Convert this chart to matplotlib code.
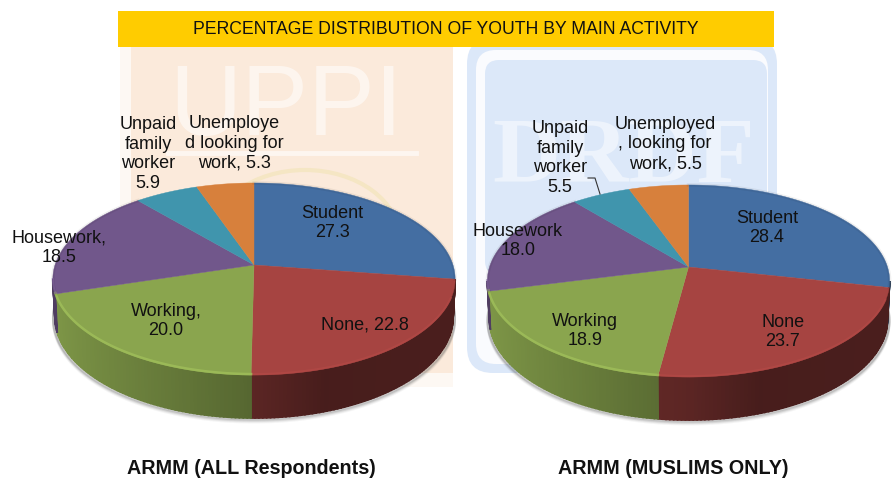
import numpy as np
import matplotlib
matplotlib.use('Agg')
import matplotlib.pyplot as plt
from matplotlib.patches import Polygon, Rectangle, FancyBboxPatch, Ellipse

# data (clockwise from 12 o'clock)
categories = ['Student', 'None', 'Working', 'Housework', 'Unpaid family worker', 'Unemployed']
all_values = [27.3, 22.8, 20.0, 18.5, 5.9, 5.3]
muslim_values = [28.4, 23.7, 18.9, 18.0, 5.5, 5.5]

title = 'PERCENTAGE DISTRIBUTION OF YOUTH BY MAIN ACTIVITY'
all_caption = 'ARMM (ALL Respondents)'
muslim_caption = 'ARMM (MUSLIMS ONLY)'

colors = ['#446ea2', '#a64441', '#8aa54e', '#71578b', '#4095ad', '#d7803c']

FONT = 'Liberation Sans'
K = 0.146


def project(cx, cy, theta):
    # circle seen in perspective, cy is where the slices meet
    u = np.sin(theta)
    v = np.cos(theta)
    w = 1 + K * v
    return cx + 199 * u / w, cy - 94 * v / w


def lower(cx, cy, theta):
    x, y = project(cx, cy, theta)
    return cx + (x - cx) * 0.99, y + 37 - 6 * np.cos(theta)


def wall_shade(i, u):
    if i == 1:
        return np.interp(u, [-0.3, 0.0, 0.3, 1.0], [0.62, 0.55, 0.43, 0.45])
    if i == 2:
        return np.interp(u, [-1.0, 0.0], [0.92, 0.62])
    if i == 3:
        return 0.7
    return 0.5


def draw_pie(ax, cx, cy, values):
    values = np.array(values, dtype=float)
    edges = np.concatenate([[0], np.cumsum(values / values.sum())]) * 2 * np.pi

    # soft shadow under the pie
    t = np.linspace(np.radians(85), np.radians(275), 120)
    lx, ly = lower(cx, cy, t)
    for d, a in [(4, 0.05), (3, 0.08), (2, 0.12), (1, 0.18)]:
        ax.plot(lx - 1.5 * np.sign(np.sin(t)) * -1, ly + d, color='#404040', alpha=a, lw=2, zorder=2)

    # side wall
    lo = np.arccos(-K)
    hi = 2 * np.pi - lo
    for i, c in enumerate(colors):
        a = max(edges[i], lo)
        b = min(edges[i + 1], hi)
        if b <= a:
            continue
        ts = np.linspace(a, b, max(2, int((b - a) * 60)))
        base = np.array(matplotlib.colors.to_rgb(c))
        for t0, t1 in zip(ts[:-1], ts[1:]):
            x0, y0 = project(cx, cy, t0)
            x1, y1 = project(cx, cy, t1)
            x2, y2 = lower(cx, cy, t1)
            x3, y3 = lower(cx, cy, t0)
            col = base * wall_shade(i, np.sin((t0 + t1) / 2))
            ax.add_patch(Polygon([(x0, y0), (x1, y1), (x2, y2), (x3, y3)],
                                 fc=col, ec=col, lw=1.2, zorder=3))

    # top face
    for i, c in enumerate(colors):
        ts = np.linspace(edges[i], edges[i + 1], 100)
        x, y = project(cx, cy, ts)
        ax.add_patch(Polygon(np.c_[np.r_[cx, x], np.r_[cy, y]], fc=c, ec=c, lw=0.3, zorder=4))
        # dark fade along the back, light bevel along the front
        if i in (0, 3):
            ax.plot(x, y, color='black', alpha=0.06, lw=2.5, zorder=5)
        base = np.array(matplotlib.colors.to_rgb(c))
        mask = (ts > lo + 0.2) & (ts < hi)
        if mask.sum() > 1 and i == 2:
            light = np.clip(base * 1.14, 0, 1)
            ax.plot(x[mask], y[mask] - 1, color=light, lw=1.8, alpha=0.9, zorder=5)
        elif mask.sum() > 1:
            light = np.clip(base * 1.08, 0, 1)
            ax.plot(x[mask], y[mask] - 1, color=light, lw=1.5, alpha=0.7, zorder=5)


fig = plt.figure(figsize=(8.93, 4.91), dpi=100)
ax = fig.add_axes([0, 0, 1, 1])
ax.set_xlim(0, 893)
ax.set_ylim(491, 0)
ax.axis('off')

# faded logos behind the pies
ax.add_patch(Rectangle((120, 47), 333, 340, fc='#fdf8f3', ec='none', zorder=0))
ax.add_patch(Rectangle((131, 47), 322, 326, fc='#fbeadb', ec='none', zorder=0))
ax.text(286, 135, 'UPPI', fontsize=72, color='white', alpha=0.55, ha='center', va='baseline',
        family=FONT, zorder=1)
ax.plot([168, 416], [153, 153], color='white', alpha=0.6, lw=3.5, zorder=1)
ax.add_patch(Ellipse((305, 240), 190, 140, fc='none', ec='#f5e6c4', lw=3, zorder=1))

ax.add_patch(FancyBboxPatch((467, 38), 310, 335, boxstyle='round,pad=0,rounding_size=26',
                            fc='#dce8f9', ec='none', zorder=0))
ax.add_patch(FancyBboxPatch((476, 50), 292, 314, boxstyle='round,pad=0,rounding_size=20',
                            fc='#fafbfe', ec='none', zorder=0))
ax.add_patch(FancyBboxPatch((485, 60), 282, 215, boxstyle='round,pad=0,rounding_size=14',
                            fc='#dce8f9', ec='none', zorder=0))
ax.text(624, 182, 'DRDF', fontsize=68, color='white', alpha=0.5, ha='center', va='baseline',
        family='Liberation Serif', weight='bold', zorder=1)

# title band
ax.add_patch(Rectangle((118, 11), 656, 36, fc='#ffcc00', ec='none', zorder=6))
ax.text(446, 29.5, title, fontsize=12.7, ha='center', va='center', color='#111111', family=FONT, zorder=7)

draw_pie(ax, 254, 265, all_values)
draw_pie(ax, 688.5, 267, muslim_values)

# labels: text, x, y
all_labels = [
    ('Unpaid\nfamily\nworker\n5.9', 148, 154),
    ('Unemploye\nd looking for\nwork, 5.3', 234, 143),
    ('Student\n27.3', 332, 223),
    ('Housework,\n18.5', 59, 248),
    ('Working,\n20.0', 166, 321),
    ('None, 22.8', 365, 325),
]
muslim_labels = [
    ('Unpaid\nfamily\nworker\n5.5', 560, 158),
    ('Unemployed\n, looking for\nwork, 5.5', 665, 144),
    ('Student\n28.4', 767, 228),
    ('Housework\n18.0', 518, 241),
    ('Working\n18.9', 585, 331),
    ('None\n23.7', 783, 332),
]
for s, x, y in all_labels + muslim_labels:
    ax.text(x, y, s, fontsize=13, ha='center', va='center', ma='center', color='#111111',
            family=FONT, linespacing=1.22, zorder=8)

ax.plot([588, 595, 600], [178, 178, 194], color='#333333', lw=0.8, zorder=8)

ax.text(251, 468, all_caption, fontsize=14.2, weight='bold', ha='center', va='center',
        color='#111111', family=FONT, zorder=8)
ax.text(673, 468, muslim_caption, fontsize=14.2, weight='bold', ha='center', va='center',
        color='#111111', family=FONT, zorder=8)

fig.savefig('out.png', dpi=100)
